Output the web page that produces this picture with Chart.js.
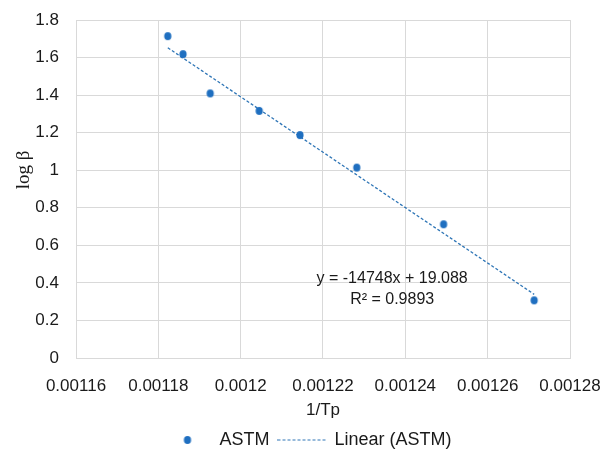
<!DOCTYPE html>
<html>
<head>
<meta charset="utf-8">
<script src="https://cdn.jsdelivr.net/npm/chart.js@4"></script>
<style>
  body { margin: 0; background: #fff; }
  canvas { display: block; }
</style>
</head>
<body>
<canvas id="grafico" width="606" height="459"></canvas>
<script>
// values
const inversoTp = [0.0011823, 0.001186, 0.0011926, 0.0012045, 0.0012144, 0.0012282, 0.0012493, 0.0012713];
const logBeta = [1.714, 1.618, 1.409, 1.316, 1.187, 1.014, 0.712, 0.307];
const tendenciaX = [0.0011823, 0.0012713];
const tendenciaY = [1.652, 0.339];
const xTicks = [0.00116, 0.00118, 0.0012, 0.00122, 0.00124, 0.00126, 0.00128];
const yTicks = [0, 0.2, 0.4, 0.6, 0.8, 1, 1.2, 1.4, 1.6, 1.8];
const equacao = ['y = -14748x + 19.088', 'R² = 0.9893'];
const posEquacao = { x: 0.0012368, y: 0.423 };

const azul = '#1f6fc0';
const azulLinha = '#2e75b6';
const fonte = 'Liberation Sans, Arial, sans-serif';

// marcadores da legenda
const marcaPonto = document.createElement('canvas');
marcaPonto.width = 10; marcaPonto.height = 10;
let c = marcaPonto.getContext('2d');
c.fillStyle = azul;
c.beginPath(); c.ellipse(5, 5, 3.6, 4, 0, 0, Math.PI * 2); c.fill();

const marcaLinha = document.createElement('canvas');
marcaLinha.width = 50; marcaLinha.height = 3;
c = marcaLinha.getContext('2d');
c.strokeStyle = azulLinha; c.lineWidth = 1.2; c.setLineDash([3, 2]);
c.beginPath(); c.moveTo(0, 1.5); c.lineTo(50, 1.5); c.stroke();

const textos = {
    id: 'textos',
    afterLayout(chart) {
        // legenda um pouco à direita, como no original
        chart.legend.left += 23;
        chart.legend.right += 23;
    },
    afterDraw(chart) {
        const ctx = chart.ctx;
        const sx = chart.scales.x, sy = chart.scales.y;
        ctx.save();
        ctx.fillStyle = '#1a1a1a';
        ctx.font = '16px ' + fonte;
        ctx.textAlign = 'center';
        ctx.textBaseline = 'middle';
        const px = sx.getPixelForValue(posEquacao.x);
        const py = sy.getPixelForValue(posEquacao.y);
        ctx.fillText(equacao[0], px, py);
        ctx.fillText(equacao[1], px, py + 21);

        ctx.translate(24, 170);
        ctx.rotate(-Math.PI / 2);
        ctx.font = '19px Liberation Serif, Times New Roman, serif';
        ctx.fillText('log β', 0, 0);
        ctx.restore();
    }
};

const pontos = inversoTp.map((x, i) => ({ x: x, y: logBeta[i] }));
const linha = tendenciaX.map((x, i) => ({ x: x, y: tendenciaY[i] }));

new Chart(document.getElementById('grafico'), {
    type: 'scatter',
    data: {
        datasets: [
            {
                label: 'ASTM',
                data: pontos,
                backgroundColor: azul,
                borderColor: azul,
                pointStyle: marcaPonto
            },
            {
                label: 'Linear (ASTM)',
                data: linha,
                showLine: true,
                borderColor: azulLinha,
                borderWidth: 1.3,
                borderDash: [3, 2],
                pointRadius: 0,
                pointStyle: marcaLinha
            }
        ]
    },
    options: {
        responsive: false,
        animation: false,
        layout: { padding: { top: 20, right: 36, left: 0, bottom: 0 } },
        plugins: {
            tooltip: { enabled: false },
            legend: {
                position: 'bottom',
                labels: {
                    usePointStyle: true,
                    pointStyleWidth: 46,
                    padding: 10,
                    color: '#1a1a1a',
                    font: { family: fonte, size: 18 },
                    generateLabels(chart) {
                        return chart.data.datasets.map((d, i) => ({
                            text: d.label,
                            pointStyle: i === 0 ? marcaPonto : marcaLinha,
                            fillStyle: azul,
                            strokeStyle: azul,
                            lineWidth: 0,
                            fontColor: '#1a1a1a',
                            datasetIndex: i
                        }));
                    }
                }
            }
        },
        scales: {
            x: {
                type: 'linear',
                min: xTicks[0],
                max: xTicks[xTicks.length - 1],
                afterBuildTicks(scale) { scale.ticks = xTicks.map(v => ({ value: v })); },
                afterFit(scale) {
                    scale.height = 63;
                    scale.paddingLeft = 0;
                    scale.paddingRight = 0;
                },
                grid: { color: '#d9d9d9', drawTicks: false },
                border: { color: '#d9d9d9' },
                ticks: {
                    padding: 18,
                    color: '#1a1a1a',
                    font: { family: fonte, size: 17 },
                    maxRotation: 0,
                    callback: v => String(Number(v.toFixed(5)))
                },
                title: {
                    display: true,
                    text: '1/Tp',
                    color: '#1a1a1a',
                    font: { family: fonte, size: 17 },
                    padding: { top: 0, bottom: 0 }
                }
            },
            y: {
                min: 0,
                max: 1.8,
                afterBuildTicks(scale) { scale.ticks = yTicks.map(v => ({ value: v })); },
                afterFit(scale) {
                    scale.width = 76;
                    scale.paddingTop = 0;
                    scale.paddingBottom = 0;
                },
                grid: { color: '#d9d9d9', drawTicks: false },
                border: { color: '#d9d9d9' },
                ticks: {
                    padding: 17,
                    color: '#1a1a1a',
                    font: { family: fonte, size: 17 },
                    callback: v => String(Number(v.toFixed(1)))
                }
            }
        }
    },
    plugins: [textos]
});
</script>
</body>
</html>
